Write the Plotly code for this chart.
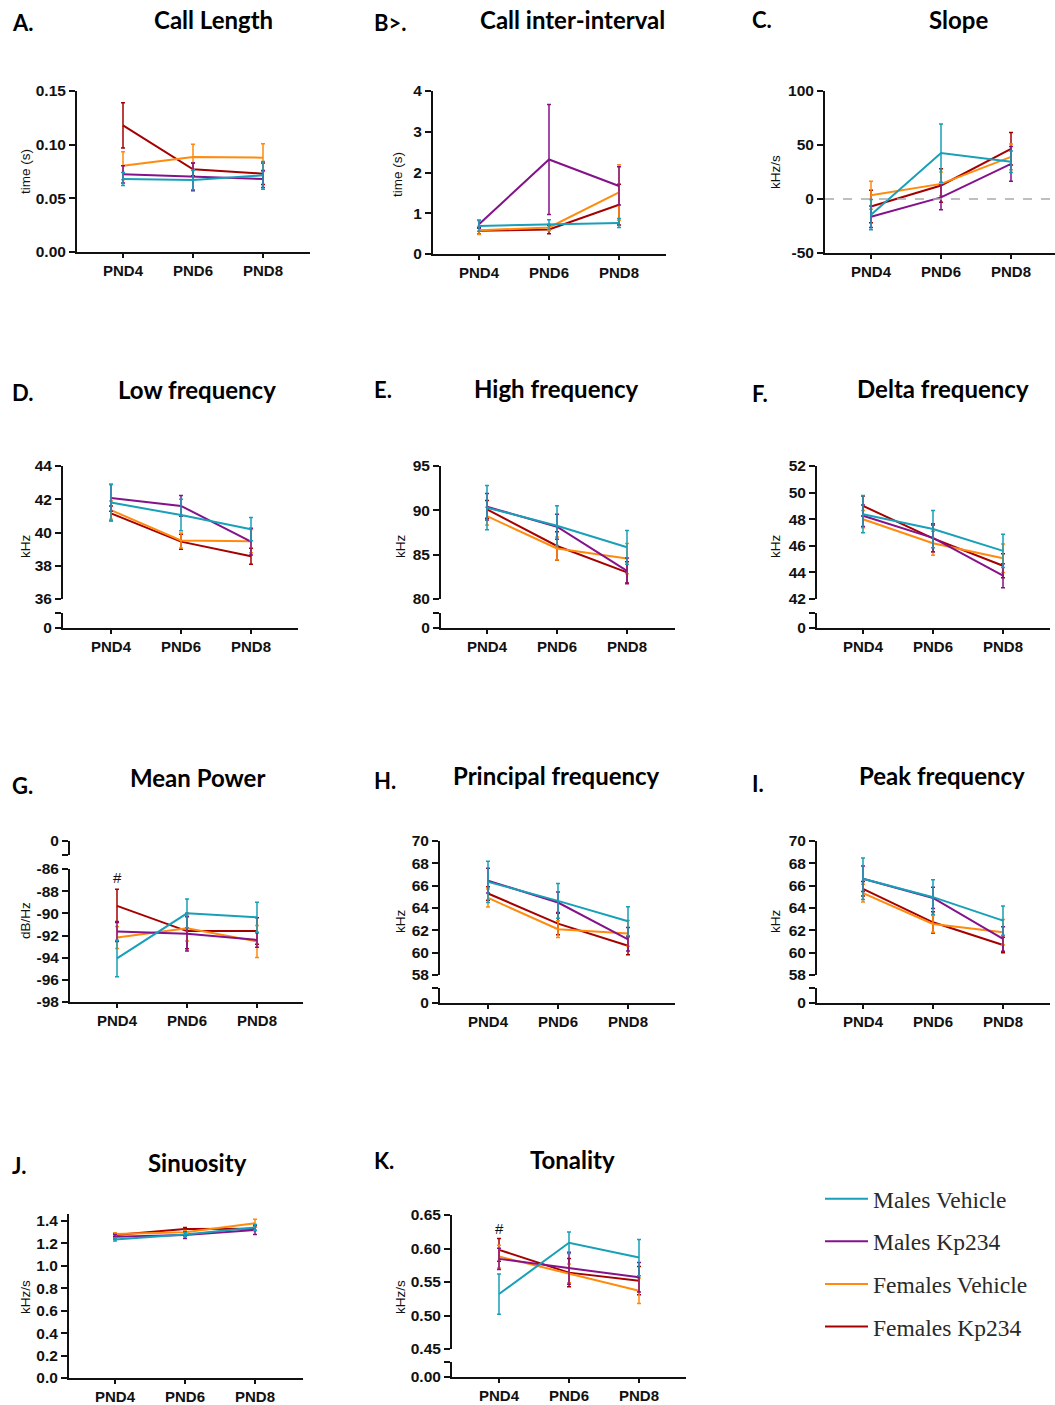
import plotly.graph_objects as go

# Canvas size in pixels; panel geometry below is given in pixels and converted to paper units
W, H = 1055, 1405


def fx(p):
    return p / W


def fy(p):
    return 1 - p / H


days = ["PND4", "PND6", "PND8"]
groups = ["Males Vehicle", "Males Kp234", "Females Vehicle", "Females Kp234"]
colors = ["#17a0b8", "#84128a", "#ff8a0c", "#a50000"]

# Group means (rows: Males Vehicle, Males Kp234, Females Vehicle, Females Kp234) and SEM
call_length = [[0.068, 0.067, 0.0714], [0.0724, 0.070, 0.068], [0.0804, 0.0885, 0.0879], [0.118, 0.077, 0.073]]
call_length_sem = [[0.006, 0.009, 0.013], [0.008, 0.013, 0.008], [0.013, 0.012, 0.013], [0.021, 0.006, 0.010]]

call_interval = [[0.69, 0.72, 0.76], [0.73, 2.32, 1.67], [0.58, 0.65, 1.51], [0.57, 0.60, 1.21]]
call_interval_sem = [[0.13, 0.12, 0.11], [0.10, 1.35, 0.47], [0.10, 0.08, 0.68], [0.08, 0.10, 0.50]]

slope = [[-14.5, 42.5, 34.5], [-16.5, 1.5, 32.5], [3.5, 14.0, 39.0], [-7.0, 12.5, 46.5]]
slope_sem = [[14, 27, 10], [10, 11.5, 16], [13, 11, 12], [15, 15.5, 15]]

low_freq = [[41.8, 41.05, 40.2], [42.08, 41.6, 39.45], [41.35, 39.52, 39.48], [41.15, 39.45, 38.57]]
low_freq_sem = [[1.1, 0.95, 0.7], [0.8, 0.62, 0.8], [0.55, 0.45, 0.7], [0.45, 0.45, 0.48]]

high_freq = [[90.3, 88.27, 85.83], [90.4, 88.15, 83.18], [89.35, 85.7, 84.56], [90.1, 85.98, 83.0]]
high_freq_sem = [[2.5, 2.25, 1.9], [1.5, 1.4, 1.45], [1.0, 1.3, 1.7], [1.0, 1.6, 1.2]]

delta_freq = [[48.38, 47.26, 45.62], [48.26, 46.6, 43.75], [48.0, 46.19, 45.07], [49.0, 46.56, 44.5]]
delta_freq_sem = [[1.4, 1.4, 1.25], [0.8, 1.05, 0.9], [0.65, 0.9, 1.07], [0.75, 1.0, 0.9]]

mean_power = [[-94.07, -90.0, -90.35], [-91.64, -91.85, -92.4], [-92.18, -91.34, -92.54], [-89.33, -91.6, -91.6]]
mean_power_sem = [[1.65, 1.3, 1.35], [0.9, 1.55, 0.65], [1.0, 1.15, 1.45], [1.5, 1.6, 1.2]]

principal_freq = [[66.34, 64.64, 62.82], [66.45, 64.49, 61.2], [64.9, 62.1, 61.72], [65.3, 62.6, 60.62]]
principal_freq_sem = [[1.85, 1.55, 1.3], [1.1, 0.95, 1.05], [0.8, 0.75, 1.15], [0.6, 1.0, 0.8]]

peak_freq = [[66.62, 64.97, 62.87], [66.62, 64.9, 61.23], [65.33, 62.57, 61.83], [65.72, 62.72, 60.69]]
peak_freq_sem = [[1.85, 1.55, 1.3], [1.15, 0.95, 1.1], [0.8, 0.75, 1.15], [0.65, 0.95, 0.7]]

sinuosity = [[1.236, 1.28, 1.343], [1.26, 1.275, 1.32], [1.284, 1.30, 1.38], [1.275, 1.328, 1.33]]
sinuosity_sem = [[0.015, 0.02, 0.025], [0.02, 0.03, 0.04], [0.012, 0.015, 0.035], [0.015, 0.015, 0.015]]

tonality = [[0.532, 0.6085, 0.5865], [0.5845, 0.5705, 0.557], [0.588, 0.563, 0.537], [0.598, 0.564, 0.552]]
tonality_sem = [[0.03, 0.016, 0.027], [0.016, 0.024, 0.022], [0.017, 0.014, 0.019], [0.017, 0.021, 0.021]]

# Panel layout: y-axis x position (ax), first category (p0), x-axis end (xe),
# main y segment (top/bot px) and an optional short broken segment holding zero.
panels = [
    dict(letter="A.", title="Call Length", unit="time (s)", mean=call_length, sem=call_length_sem,
         ax=77, p0=123, xe=310, top=91, bot=252, yr=[0, 0.15], ticks=[0, 0.05, 0.10, 0.15], fmt="{:.2f}",
         brk=None, t_xy=(213, 20), l_xy=(10, 22), u_xy=(25, 172)),
    dict(letter="B>.", title="Call inter-interval", unit="time (s)", mean=call_interval, sem=call_interval_sem,
         ax=433, p0=479, xe=666, top=91, bot=254, yr=[0, 4], ticks=[0, 1, 2, 3, 4], fmt="{:.0f}",
         brk=None, t_xy=(572, 19), l_xy=(372, 23), u_xy=(397, 175)),
    dict(letter="C.", title="Slope", unit="kHz/s", mean=slope, sem=slope_sem,
         ax=825, p0=871, xe=1055, top=91, bot=253, yr=[-50, 100], ticks=[-50, 0, 50, 100], fmt="{:.0f}",
         brk=None, t_xy=(958, 19), l_xy=(750, 20), u_xy=(775, 172)),
    dict(letter="D.", title="Low frequency", unit="kHz", mean=low_freq, sem=low_freq_sem,
         ax=63, p0=111, xe=298, top=466, bot=599, yr=[36, 44], ticks=[36, 38, 40, 42, 44], fmt="{:.0f}",
         brk="low", seg=(613, 628), seg_label="0", t_xy=(197, 389), l_xy=(10, 392), u_xy=(25, 547)),
    dict(letter="E.", title="High frequency", unit="kHz", mean=high_freq, sem=high_freq_sem,
         ax=441, p0=487, xe=675, top=466, bot=599, yr=[80, 95], ticks=[80, 85, 90, 95], fmt="{:.0f}",
         brk="low", seg=(613, 628), seg_label="0", t_xy=(556, 388), l_xy=(372, 389), u_xy=(400, 547)),
    dict(letter="F.", title="Delta frequency", unit="kHz", mean=delta_freq, sem=delta_freq_sem,
         ax=817, p0=863, xe=1050, top=466, bot=599, yr=[42, 52], ticks=[42, 44, 46, 48, 50, 52], fmt="{:.0f}",
         brk="low", seg=(613, 628), seg_label="0", t_xy=(943, 388), l_xy=(750, 393), u_xy=(775, 547)),
    dict(letter="G.", title="Mean Power", unit="dB/Hz", mean=mean_power, sem=mean_power_sem,
         ax=70, p0=117, xe=303, top=869, bot=1002, yr=[-98, -86], ticks=[-98, -96, -94, -92, -90, -88, -86],
         fmt="{:.0f}", brk="high", seg=(841, 855), seg_label="0", t_xy=(197, 777), l_xy=(10, 785), u_xy=(25, 921)),
    dict(letter="H.", title="Principal frequency", unit="kHz", mean=principal_freq, sem=principal_freq_sem,
         ax=440, p0=488, xe=675, top=841, bot=975, yr=[58, 70], ticks=[58, 60, 62, 64, 66, 68, 70], fmt="{:.0f}",
         brk="low", seg=(988, 1003), seg_label="0", t_xy=(556, 775), l_xy=(372, 780), u_xy=(400, 922)),
    dict(letter="I.", title="Peak frequency", unit="kHz", mean=peak_freq, sem=peak_freq_sem,
         ax=817, p0=863, xe=1050, top=841, bot=975, yr=[58, 70], ticks=[58, 60, 62, 64, 66, 68, 70], fmt="{:.0f}",
         brk="low", seg=(988, 1003), seg_label="0", t_xy=(942, 775), l_xy=(750, 783), u_xy=(775, 922)),
    dict(letter="J.", title="Sinuosity", unit="kHz/s", mean=sinuosity, sem=sinuosity_sem,
         ax=69, p0=115, xe=303, top=1214, bot=1378, yr=[0, 1.4625], ticks=[0, 0.2, 0.4, 0.6, 0.8, 1.0, 1.2, 1.4],
         fmt="{:.1f}", brk=None, t_xy=(197, 1162), l_xy=(10, 1165), u_xy=(25, 1297)),
    dict(letter="K.", title="Tonality", unit="kHz/s", mean=tonality, sem=tonality_sem,
         ax=452, p0=499, xe=686, top=1215, bot=1349, yr=[0.45, 0.65], ticks=[0.45, 0.50, 0.55, 0.60, 0.65],
         fmt="{:.2f}", brk="low", seg=(1362, 1377), seg_label="0.00", t_xy=(572, 1159), l_xy=(372, 1160),
         u_xy=(400, 1297)),
]

SPACING = 70
INK = "#111111"
y_tick_font = dict(family="Liberation Sans, Arial, sans-serif", size=15.5, color=INK, weight="bold")
x_tick_font = dict(family="Liberation Sans, Arial, sans-serif", size=15, color=INK, weight="bold")
axis_style = dict(showline=True, linecolor=INK, linewidth=2, ticks="outside", tickwidth=2,
                  tickcolor=INK, showgrid=False, zeroline=False, automargin=False)

fig = go.Figure()
layout = {}
annotations = []
shapes = []
next_axis = len(panels) + 1

for i, p in enumerate(panels, start=1):
    xn = "x" if i == 1 else f"x{i}"
    yn = "y" if i == 1 else f"y{i}"
    xk = "xaxis" if i == 1 else f"xaxis{i}"
    yk = "yaxis" if i == 1 else f"yaxis{i}"

    # Series drawn back to front so Males Vehicle sits on top
    for g in reversed(range(len(groups))):
        fig.add_trace(go.Scatter(
            x=days, y=p["mean"][g], mode="lines", name=groups[g],
            line=dict(color=colors[g], width=2),
            error_y=dict(type="data", array=p["sem"][g], color=colors[g], thickness=1.5, width=2),
            xaxis=xn, yaxis=yn, legendgroup=groups[g], legendrank=g + 1,
            showlegend=(i == 1),
        ))

    x_lo = (p["ax"] - p["p0"]) / SPACING
    x_hi = 2 + (p["xe"] - (p["p0"] + 2 * SPACING)) / SPACING
    x_anchor = yn

    if p["brk"] is not None:
        sn = f"y{next_axis}"
        sk = f"yaxis{next_axis}"
        next_axis += 1
        s_top, s_bot = p["seg"]
        if p["brk"] == "low":
            seg_range, seg_vals = [0, 1], [0, 1]
            x_anchor = sn
        else:
            seg_range, seg_vals = [-1, 0], [0, -1]
        # empty trace registers the short axis segment as a subplot
        fig.add_trace(go.Scatter(x=[], y=[], xaxis=xn, yaxis=sn, showlegend=False, hoverinfo="skip"))
        layout[sk] = dict(axis_style, domain=[fy(s_bot), fy(s_top)], anchor=xn, range=seg_range,
                          tickvals=seg_vals, ticktext=[p["seg_label"], ""], ticklen=6, tickfont=y_tick_font)

    layout[xk] = dict(axis_style, domain=[fx(p["ax"]), fx(p["xe"])], anchor=x_anchor,
                      type="category", range=[x_lo, x_hi], ticklen=4, tickfont=x_tick_font)
    layout[yk] = dict(axis_style, domain=[fy(p["bot"]), fy(p["top"])], anchor=xn,
                      range=p["yr"], tickvals=p["ticks"], tickfont=y_tick_font,
                      ticktext=[p["fmt"].format(v) for v in p["ticks"]], ticklen=6)

    annotations.append(dict(text=p["title"], xref="paper", yref="paper", x=fx(p["t_xy"][0]), y=fy(p["t_xy"][1]),
                            xanchor="center", yanchor="middle", showarrow=False,
                            font=dict(family="Lato, Open Sans, sans-serif", size=24, color="#000", weight="bold")))
    annotations.append(dict(text=p["letter"], xref="paper", yref="paper", x=fx(p["l_xy"][0]), y=fy(p["l_xy"][1]),
                            xanchor="left", yanchor="middle", showarrow=False,
                            font=dict(family="Lato, Open Sans, sans-serif", size=22, color="#000", weight="bold")))
    annotations.append(dict(text=p["unit"], xref="paper", yref="paper", x=fx(p["u_xy"][0]), y=fy(p["u_xy"][1]),
                            xanchor="center", yanchor="middle", showarrow=False, textangle=-90,
                            font=dict(family="Liberation Sans, Arial, sans-serif", size=13.5, color=INK)))

# Zero reference line on the slope panel
shapes.append(dict(type="line", xref="x3 domain", x0=0, x1=1, yref="y3", y0=0, y1=0,
                   line=dict(color="#aaaaaa", width=1.5, dash="dash")))

# Significance markers
for xr, ypx in (("x7", 877), ("x11", 1228)):
    annotations.append(dict(text="#", xref=xr, yref="paper", x="PND4", y=fy(ypx), showarrow=False,
                            xanchor="center", yanchor="middle",
                            font=dict(family="Liberation Sans, Arial, sans-serif", size=15, color=INK)))

fig.update_layout(
    **layout,
    width=W, height=H,
    margin=dict(l=0, r=0, t=0, b=0, autoexpand=False),
    paper_bgcolor="white", plot_bgcolor="white",
    annotations=annotations, shapes=shapes,
    showlegend=True,
    legend=dict(x=fx(820), y=fy(1177), xanchor="left", yanchor="top",
                traceorder="grouped", tracegroupgap=9, itemwidth=43,
                bgcolor="rgba(0,0,0,0)",
                font=dict(family="Liberation Serif, Times New Roman, serif", size=23.5, color="#2a2a2a")),
)

fig.write_html("out.html")
